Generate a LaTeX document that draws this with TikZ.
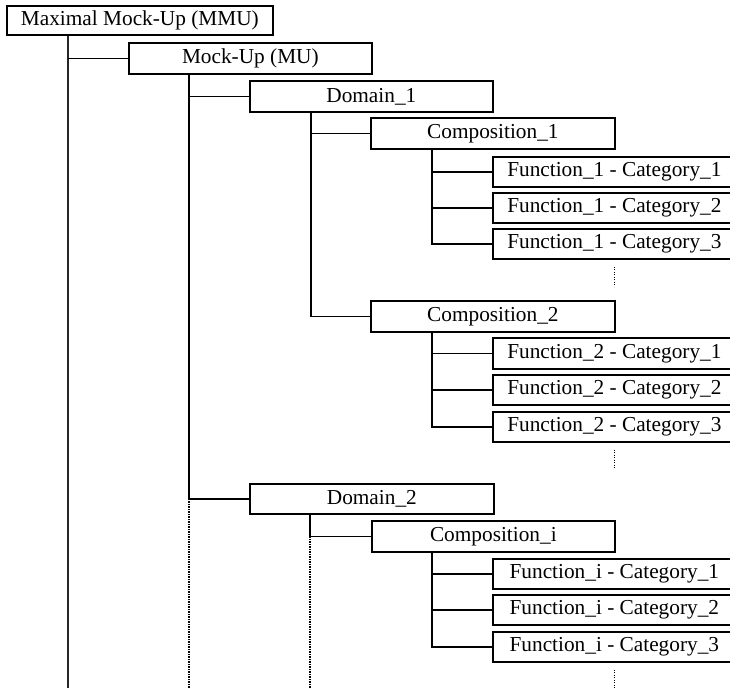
\documentclass[tikz,border=0pt]{standalone}
\usepackage{fontspec}
\setmainfont{Liberation Serif}
\begin{document}
\begin{tikzpicture}[x=1pt,y=-1pt,
  box/.style={draw=black, line width=1.7pt, fill=white, inner sep=0pt,
    anchor=north west, minimum height=30pt,
    font=\fontsize{21.3}{21.3}\selectfont},
  conn/.style={draw=black, line width=1.7pt},
  rootline/.style={draw=black!85, line width=1.1pt},
  dots/.style={draw=black, line width=1.4pt, dash pattern=on 1.2pt off 1.3pt}]
\clip (0,0) rectangle (730,688);
\coordinate (bottom) at (0,688);

% boxes
\node[box, minimum width=266pt, minimum height=29pt] (mmu) at (6,5) {Maximal Mock-Up (MMU)};
\node[box, minimum width=243pt, minimum height=31pt] (mu) at (128,42) {Mock-Up (MU)};
\node[box, minimum width=243pt, minimum height=31pt] (d1) at (249,80) {Domain\_1};
\node[box, minimum width=244pt, minimum height=31pt] (c1) at (370,117) {Composition\_1};
\node[box, minimum width=243pt] (f11) at (492,156) {Function\_1 - Category\_1};
\node[box, minimum width=243pt] (f12) at (492,192) {Function\_1 - Category\_2};
\node[box, minimum width=243pt] (f13) at (492,228) {Function\_1 - Category\_3};
\node[box, minimum width=244pt, minimum height=31pt] (c2) at (370,300) {Composition\_2};
\node[box, minimum width=243pt, minimum height=31pt] (f21) at (492,337) {Function\_2 - Category\_1};
\node[box, minimum width=243pt] (f22) at (492,374) {Function\_2 - Category\_2};
\node[box, minimum width=243pt] (f23) at (492,411) {Function\_2 - Category\_3};
\node[box, minimum width=244pt] (d2) at (249,483) {Domain\_2};
\node[box, minimum width=243pt, minimum height=31pt] (ci) at (371,520) {Composition\_i};
\node[box, minimum width=243pt] (fi1) at (492,558) {Function\_i - Category\_1};
\node[box, minimum width=243pt] (fi2) at (492,594) {Function\_i - Category\_2};
\node[box, minimum width=243pt] (fi3) at (492,631) {Function\_i - Category\_3};

% trunk start points below each parent box
\coordinate (tmmu) at ([xshift=62pt]mmu.south west);
\coordinate (tmu) at ([xshift=61pt]mu.south west);
\coordinate (td1) at ([xshift=62pt]d1.south west);
\coordinate (tc1) at ([xshift=62pt]c1.south west);
\coordinate (tc2) at ([xshift=62pt]c2.south west);
\coordinate (td2) at ([xshift=61pt]d2.south west);
\coordinate (tci) at ([xshift=61pt]ci.south west);

% root trunk
\draw[rootline] (tmmu) -- (tmmu |- bottom);
\draw[conn] (tmmu |- mu.west) -- (mu.west);

% mock-up trunk
\draw[conn] (tmu) |- (d2.west);
\draw[conn] (tmu |- d1.west) -- (d1.west);
\draw[dots] (tmu |- d2.west) -- (tmu |- bottom);

% domain 1
\draw[conn] (td1) |- (c2.west);
\draw[conn] (td1 |- c1.west) -- (c1.west);

% composition 1
\draw[conn] (tc1) |- (f13.west);
\draw[conn] (tc1 |- f11.west) -- (f11.west);
\draw[conn] (tc1 |- f12.west) -- (f12.west);

% composition 2
\draw[conn] (tc2) |- (f23.west);
\draw[conn] (tc2 |- f21.west) -- (f21.west);
\draw[conn] (tc2 |- f22.west) -- (f22.west);

% domain 2
\draw[conn] (td2) |- (ci.west);
\draw[dots] (td2 |- ci.west) -- (td2 |- bottom);

% composition i
\draw[conn] (tci) |- (fi3.west);
\draw[conn] (tci |- fi1.west) -- (fi1.west);
\draw[conn] (tci |- fi2.west) -- (fi2.west);

% continuation marks under each function list
\draw[dots] ([yshift=-7pt]f13.south) -- ([yshift=-27pt]f13.south);
\draw[dots] ([yshift=-7pt]f23.south) -- ([yshift=-26pt]f23.south);
\draw[dots] ([yshift=-7pt]fi3.south) -- ([yshift=-27pt]fi3.south);
\end{tikzpicture}
\end{document}
